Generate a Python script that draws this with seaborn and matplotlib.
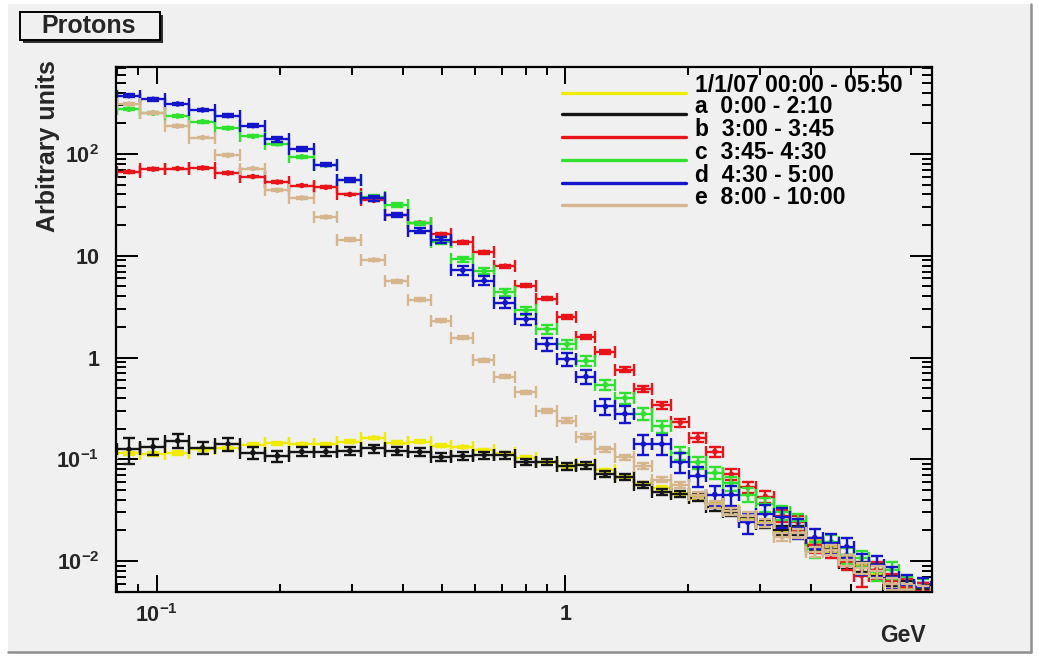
import numpy as np
import pandas as pd
import seaborn as sns
import matplotlib.pyplot as plt
from matplotlib.patches import Rectangle
from matplotlib.lines import Line2D
from matplotlib.ticker import FixedLocator, FixedFormatter, LogLocator, NullFormatter

# energy bin edges [GeV]
bin_edges = [0.080, 0.091, 0.105, 0.120, 0.139, 0.160, 0.184, 0.211, 0.242, 0.277,
             0.317, 0.363, 0.413, 0.468, 0.526, 0.596, 0.671, 0.755, 0.849, 0.956,
             1.064, 1.184, 1.325, 1.475, 1.632, 1.816, 2.010, 2.212, 2.434, 2.664,
             2.931, 3.243, 3.549, 3.884, 4.273, 4.677, 5.089, 5.538, 6.026, 6.556,
             7.135, 7.850]

series_names = ["1/1/07 00:00 - 05:50", "a  0:00 - 2:10", "b  3:00 - 3:45",
                "c  3:45- 4:30", "d  4:30 - 5:00", "e  8:00 - 10:00"]
series_colors = ["#f0ec00", "#151515", "#e8141a", "#2fe22f", "#1414cc", "#d6b68e"]

# spectra, one value per bin (arbitrary units)
flux_all = [0.114, 0.113, 0.115, 0.125, 0.128, 0.138, 0.143, 0.141, 0.140, 0.149,
            0.162, 0.146, 0.149, 0.136, 0.132, 0.122, 0.114, 0.104, 0.095, 0.085,
            0.090, 0.078, 0.067, 0.058, 0.052, 0.046, 0.042, 0.036, 0.032, 0.026,
            0.024, 0.021, 0.019, 0.015, 0.013, 0.010, 0.0085, 0.0082, 0.0063, 0.0054,
            0.0052]
flux_a = [0.125, 0.133, 0.152, 0.130, 0.141, 0.116, 0.108, 0.119, 0.119, 0.121,
          0.128, 0.120, 0.118, 0.105, 0.108, 0.110, 0.110, 0.094, 0.094, 0.085,
          0.087, 0.072, 0.067, 0.056, 0.048, 0.046, 0.042, 0.034, 0.030, 0.027,
          0.023, 0.020, 0.020, 0.014, 0.013, 0.0095, 0.0088, 0.0082, 0.0065, 0.0056,
          0.0053]
flux_b = [67, 71, 72, 73, 65, 60, 53, 49, 47, 40,
          35, 25, 21, 16.2, 13.6, 10.8, 7.9, 5.1, 3.8, 2.5,
          1.6, 1.14, 0.76, 0.49, 0.34, 0.23, 0.163, 0.119, 0.071, 0.053,
          0.043, 0.028, 0.024, 0.0144, 0.0128, 0.0098, 0.0072, 0.0082, 0.0063, 0.0055,
          0.0051]
flux_c = [275, 251, 236, 208, 179, 149, 126, 94, 78, 55,
          38, 31.5, 20.8, 13.7, 9.2, 7.1, 4.4, 2.9, 1.9, 1.35,
          0.93, 0.54, 0.40, 0.28, 0.21, 0.115, 0.093, 0.074, 0.058, 0.045,
          0.036, 0.030, 0.025, 0.013, 0.0155, 0.0115, 0.0107, 0.0078, 0.0082, 0.0058,
          0.0056]
flux_d = [374, 345, 310, 271, 238, 190, 139, 112, 78.5, 55.5,
          36.7, 25.1, 17.6, 14.3, 7.2, 5.7, 3.46, 2.37, 1.35, 0.96,
          0.65, 0.33, 0.28, 0.141, 0.141, 0.094, 0.069, 0.045, 0.045, 0.024,
          0.029, 0.027, 0.021, 0.017, 0.015, 0.0138, 0.0095, 0.0091, 0.0070, 0.0058,
          0.0055]
flux_e = [310, 255, 188, 145, 97, 72, 44, 37, 24, 14.4,
          9.1, 5.6, 3.7, 2.3, 1.57, 0.94, 0.65, 0.455, 0.30, 0.24,
          0.167, 0.125, 0.105, 0.086, 0.063, 0.056, 0.045, 0.036, 0.031, 0.028,
          0.0235, 0.0173, 0.0187, 0.0123, 0.0128, 0.0102, 0.0085, 0.0079, 0.0060, 0.0052,
          0.0050]

# relative errors [%]
err_all = [4, 4, 4, 4, 4, 4, 3, 3, 3, 3, 3, 3, 3, 3, 3, 3, 3, 3, 3, 3,
           3, 3, 3, 4, 4, 4, 4, 5, 5, 5, 6, 6, 6, 7, 7, 8, 8, 9, 9, 10, 10]
err_a = [28, 18, 16, 14, 14, 13, 12, 10, 10, 10, 9, 9, 9, 9, 8, 8, 8, 7, 7, 7,
         7, 7, 7, 7, 7, 7, 8, 8, 8, 9, 9, 10, 10, 11, 11, 12, 12, 13, 13, 14, 15]
err_b = [2, 2, 2, 2, 2, 2, 2, 2, 2, 2, 2, 2, 3, 3, 3, 3, 3, 4, 4, 4,
         5, 5, 6, 7, 8, 9, 10, 12, 12, 12, 13, 14, 15, 16, 16, 17, 22, 18, 18, 20, 20]
err_c = [2, 2, 2, 2, 2, 2, 2, 2, 3, 3, 3, 4, 4, 5, 6, 7, 8, 9, 10, 10,
         11, 12, 12, 13, 13, 14, 14, 14, 15, 15, 15, 16, 16, 17, 17, 18, 18, 18, 19, 20, 20]
err_d = [3, 3, 3, 3, 3, 4, 5, 4, 4, 4, 5, 5, 6, 7, 10, 10, 12, 12, 14, 15,
         16, 18, 18, 22, 22, 22, 22, 22, 22, 24, 22, 22, 22, 22, 22, 22, 23, 23, 24, 25, 25]
err_e = [2, 2, 2, 2, 2, 2, 2, 2, 3, 3, 3, 3, 3, 3, 3, 4, 4, 4, 4, 5,
         5, 5, 6, 6, 6, 7, 7, 8, 8, 9, 9, 10, 10, 11, 11, 12, 12, 13, 13, 14, 14]

fluxes = [flux_all, flux_a, flux_b, flux_c, flux_d, flux_e]
errors = [err_all, err_a, err_b, err_c, err_d, err_e]

edges = np.array(bin_edges)
centers = 0.5 * (edges[:-1] + edges[1:])
x_lo = centers - edges[:-1]
x_hi = edges[1:] - centers

rows = []
for name, vals, errs in zip(series_names, fluxes, errors):
    for c, v, e in zip(centers, vals, errs):
        rows.append({"series": name, "energy": c, "flux": v, "err": v * e / 100.0})
df = pd.DataFrame(rows)

bg = "#f0f0f0"
sns.set_theme(style="ticks", rc={"axes.facecolor": bg, "figure.facecolor": "white",
                                 "axes.edgecolor": "black", "axes.linewidth": 1.6})
plt.rcParams["font.family"] = ["Liberation Sans", "DejaVu Sans"]
plt.rcParams["font.weight"] = "bold"
plt.rcParams["mathtext.fontset"] = "custom"
plt.rcParams["mathtext.rm"] = "Liberation Sans:bold"
plt.rcParams["mathtext.bf"] = "Liberation Sans:bold"
plt.rcParams["mathtext.it"] = "Liberation Sans:bold"
plt.rcParams["mathtext.default"] = "bf"

fig = plt.figure(figsize=(10.38, 6.56), dpi=100)
# grey canvas panel with a shadow edge on the right and bottom
fig.patches.append(Rectangle((8 / 1038, 4 / 656), 1023 / 1038, 648 / 656,
                             transform=fig.transFigure, facecolor=bg, edgecolor="none", zorder=-10))
fig.add_artist(Line2D([1031 / 1038, 1031 / 1038], [4 / 656, 652 / 656], color="#8f8f8f", lw=1.8))
fig.add_artist(Line2D([8 / 1038, 1031 / 1038], [4 / 656, 4 / 656], color="#8f8f8f", lw=1.8))

ax = fig.add_axes([116 / 1038, 64 / 656, 816 / 1038, 525 / 656])

for name, color in zip(series_names, series_colors):
    sub = df[df["series"] == name]
    ax.errorbar(sub["energy"], sub["flux"], xerr=[x_lo, x_hi], yerr=sub["err"],
                fmt="none", ecolor=color, elinewidth=1.7, capsize=4, capthick=1.7)
    sns.scatterplot(data=sub, x="energy", y="flux", color=color, s=16, marker="o",
                    edgecolor="none", legend=False, ax=ax)

ax.set_xscale("log")
ax.set_yscale("log")
ax.set_xlim(0.0795, 7.9)
ax.set_ylim(0.00496, 716)

ax.xaxis.set_major_locator(FixedLocator([0.1, 1]))
ax.xaxis.set_major_formatter(FixedFormatter([r"$10^{-1}$", "1"]))
ax.xaxis.set_minor_locator(LogLocator(base=10, subs=np.arange(2, 10)))
ax.xaxis.set_minor_formatter(NullFormatter())
ax.yaxis.set_major_locator(FixedLocator([0.01, 0.1, 1, 10, 100]))
ax.yaxis.set_major_formatter(FixedFormatter([r"$10^{-2}$", r"$10^{-1}$", "1", "10", r"$10^{2}$"]))
ax.yaxis.set_minor_locator(LogLocator(base=10, subs=np.arange(2, 10)))
ax.yaxis.set_minor_formatter(NullFormatter())

ax.tick_params(which="both", direction="in", top=True, right=True, color="black", width=1.4)
ax.tick_params(axis="y", which="major", length=16, pad=12, labelsize=15.5)
ax.tick_params(axis="y", which="minor", length=7.5)
ax.tick_params(axis="x", which="major", length=12, pad=9, labelsize=15.5)
ax.tick_params(axis="x", which="minor", length=6)

ax.set_xlabel("GeV", fontsize=16.5, fontweight="bold")
ax.xaxis.set_label_coords((903 - 116) / 816, (592 - 635) / 525)
ax.xaxis.label.set_va("center")
ax.set_ylabel("Arbitrary units", fontsize=18, fontweight="bold")
ax.yaxis.label.set_rotation_mode("default")
ax.yaxis.label.set_ha("center")
ax.yaxis.label.set_va("top")
ax.yaxis.set_label_coords((48 - 116) / 816, (592 - 60) / 525)

# legend, ROOT style: long line swatches, text sitting slightly above them
line_y = [0.9510, 0.9105, 0.8661, 0.8229, 0.7796, 0.7371]
for name, color, ly in zip(series_names, series_colors, line_y):
    ax.add_line(Line2D([0.5466, 0.6985], [ly, ly], transform=ax.transAxes, color=color, lw=2.4))
    ax.text(0.7096, ly + 0.014, name, transform=ax.transAxes, ha="left", va="center",
            fontsize=16.5, fontweight="bold", color="black")

# title box
fig.patches.append(Rectangle((23 / 1038, (656 - 43) / 656), 140 / 1038, 28 / 656,
                             transform=fig.transFigure, facecolor="#303030", edgecolor="none"))
fig.patches.append(Rectangle((20 / 1038, (656 - 40) / 656), 140 / 1038, 28 / 656,
                             transform=fig.transFigure, facecolor=bg, edgecolor="black", lw=1.4))
fig.text(89 / 1038, (656 - 26) / 656, "Protons", ha="center", va="center",
         fontsize=18, fontweight="bold")

fig.savefig("out.png", dpi=100)
